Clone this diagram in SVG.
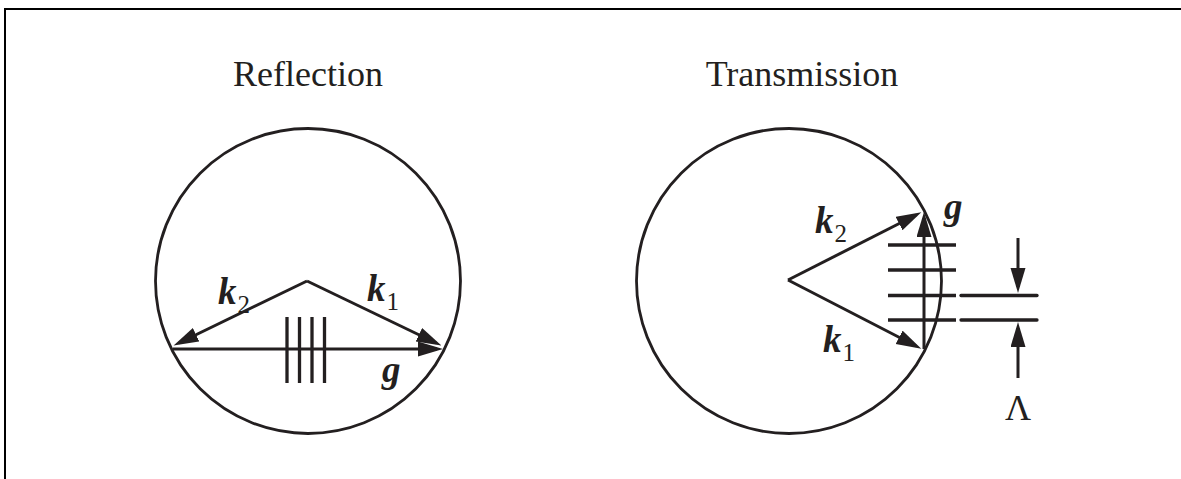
<svg xmlns="http://www.w3.org/2000/svg" width="1181" height="479" viewBox="0 0 1181 479">
<style>
.frame{fill:none;stroke:#000;stroke-width:2}
.circ{fill:none;stroke:#231f20;stroke-width:2.8}
.vec{fill:none;stroke:#231f20;stroke-width:3}
.fr{fill:none;stroke:#231f20;stroke-width:3.3}
.lam{fill:none;stroke:#231f20;stroke-width:3.3;stroke-linecap:round}
.title{font-family:"Liberation Serif",serif;font-size:36px;fill:#231f20;text-anchor:middle}
.lbl{font-family:"Liberation Serif",serif;font-size:37px;font-weight:bold;font-style:italic;fill:#231f20}
.sub{font-family:"Liberation Serif",serif;font-size:25px;font-weight:normal;font-style:normal}
.sym{font-family:"Liberation Serif",serif;font-size:36px;fill:#231f20;text-anchor:middle}
</style>
<defs>
<marker id="ah" markerUnits="userSpaceOnUse" markerWidth="28" markerHeight="16" refX="19" refY="7.5" orient="auto">
<path d="M0,0 L25,7.5 L0,15 Z" fill="#231f20"/>
</marker>
</defs>
<rect width="1181" height="479" fill="#fff"/>
<path class="frame" d="M5,479 V9 H1181"/>
<g id="reflection">
<text class="title" x="308" y="86">Reflection</text>
<circle class="circ" cx="308" cy="281" r="152.5"/>
<line class="fr" x1="287" y1="317" x2="287" y2="383"/>
<line class="fr" x1="299.5" y1="317" x2="299.5" y2="383"/>
<line class="fr" x1="312" y1="317" x2="312" y2="383"/>
<line class="fr" x1="324.5" y1="317" x2="324.5" y2="383"/>
<text class="lbl" x="218" y="304">k<tspan class="sub" dx="1" dy="9">2</tspan></text>
<text class="lbl" x="367" y="301">k<tspan class="sub" dx="1" dy="9">1</tspan></text>
<text class="lbl" x="382" y="382">g</text>
</g>
<g id="transmission">
<text class="title" x="802" y="86">Transmission</text>
<circle class="circ" cx="789" cy="281" r="152.5"/>
<line class="fr" x1="888" y1="245" x2="956" y2="245"/>
<line class="fr" x1="888" y1="270" x2="956" y2="270"/>
<line class="fr" x1="888" y1="295.5" x2="956" y2="295.5"/>
<line class="fr" x1="888" y1="320" x2="956" y2="320"/>
<text class="lbl" x="815" y="233">k<tspan class="sub" dx="1" dy="9">2</tspan></text>
<text class="lbl" x="823" y="352">k<tspan class="sub" dx="1" dy="9">1</tspan></text>
<text class="lbl" x="944" y="219">g</text>
</g>
<g id="lambda">
<line class="lam" x1="961" y1="295.5" x2="1037" y2="295.5"/>
<line class="lam" x1="961" y1="320" x2="1037" y2="320"/>
<text class="sym" x="1018" y="420">Λ</text>
</g>
<g id="connectors">
<path class="vec" d="M307,281 L179,343" marker-end="url(#ah)"/>
<path class="vec" d="M307,281 L436,343" marker-end="url(#ah)"/>
<path class="vec" d="M173,349 L437,349" marker-end="url(#ah)"/>
<path class="vec" d="M788,280 L916,215" marker-end="url(#ah)"/>
<path class="vec" d="M788,280 L916,346" marker-end="url(#ah)"/>
<path class="vec" d="M924,349 L924,218" marker-end="url(#ah)"/>
<path class="vec" d="M1018,238 L1018,287" marker-end="url(#ah)"/>
<path class="vec" d="M1018,378 L1018,328" marker-end="url(#ah)"/>
</g>
</svg>
